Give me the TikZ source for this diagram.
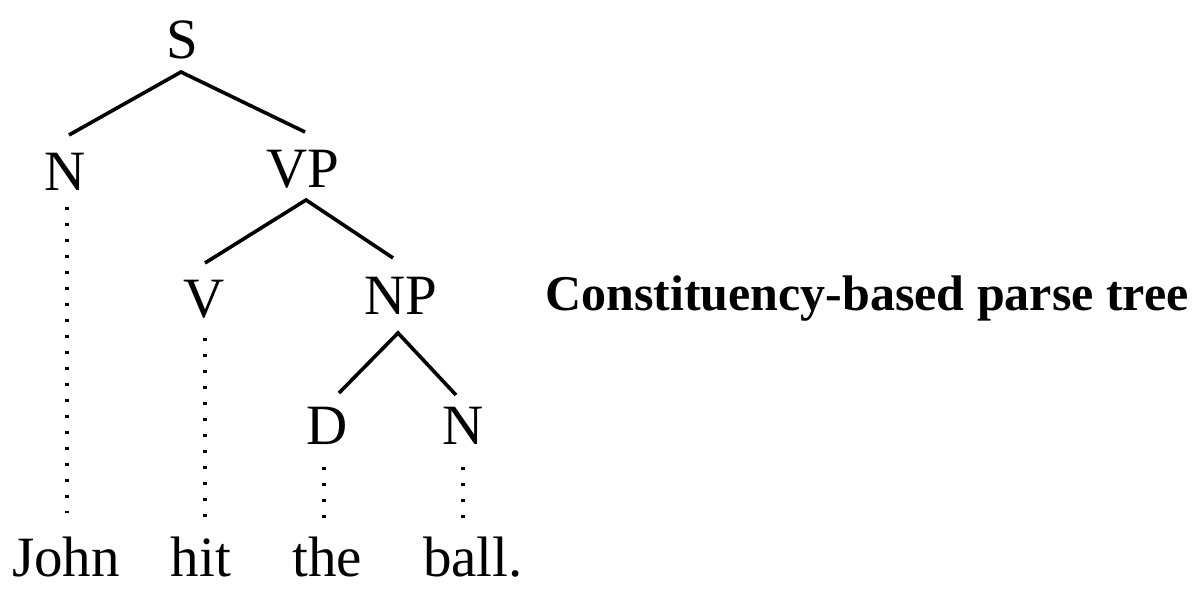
\documentclass[tikz,border=0pt]{standalone}
\usepackage{fontspec}
\setmainfont{Liberation Serif}
\begin{document}
\begin{tikzpicture}[x=1pt,y=-1pt,
  lab/.style={anchor=base,inner sep=0pt,outer sep=0pt,font=\fontsize{57}{60}\selectfont},
  branch/.style={line width=3.6pt,line cap=butt,line join=miter},
  leaf/.style={line width=3.2pt,dash pattern=on 3.2pt off 12.8pt}]
\useasboundingbox (0,0) rectangle (1201,601);
\fill[white] (0,0) rectangle (1201,601);
% category nodes
\node[lab] (S)   at (182,59)  {S};
\node[lab] (N1)  at (65,191)  {N};
\node[lab] (VP)  at (303,188) {VP};
\node[lab] (V)   at (204,318) {V};
\node[lab] (NP)  at (401,315) {NP};
\node[lab] (D)   at (327,444) {D};
\node[lab] (N2)  at (463,444) {N};
% words
\node[lab] (john) at (66,576)  {John};
\node[lab] (hit)  at (201,576) {hit};
\node[lab] (the)  at (327,576) {the};
\node[lab] (ball) at (473,576) {ball.};
% caption
\node[anchor=base west,inner sep=0pt,font=\fontsize{50}{54}\selectfont\bfseries] (cap) at (545,311) {Constituency-based parse tree};
% branches
\draw[branch] ([shift={(4,-56)}]N1.base) -- ([shift={(-1,13)}]S.base) -- ([shift={(2,-56)}]VP.base);
\draw[branch] ([shift={(1,-55)}]V.base) -- ([shift={(3,12)}]VP.base) -- ([shift={(-8,-57)}]NP.base);
\draw[branch] ([shift={(12,-51)}]D.base) -- ([shift={(-3,18)}]NP.base) -- ([shift={(-7,-49)}]N2.base);
% dotted leaf lines
\draw[leaf] ([shift={(2,16)}]N1.base) -- ([shift={(1,-63)}]john.base);
\draw[leaf] ([shift={(1,20)}]V.base) -- ([shift={(4,-59)}]hit.base);
\draw[leaf] ([shift={(-3,23)}]D.base) -- ([shift={(-3,-58)}]the.base);
\draw[leaf] ([shift={(0,23)}]N2.base) -- ([shift={(-10,-58)}]ball.base);
\end{tikzpicture}
\end{document}
